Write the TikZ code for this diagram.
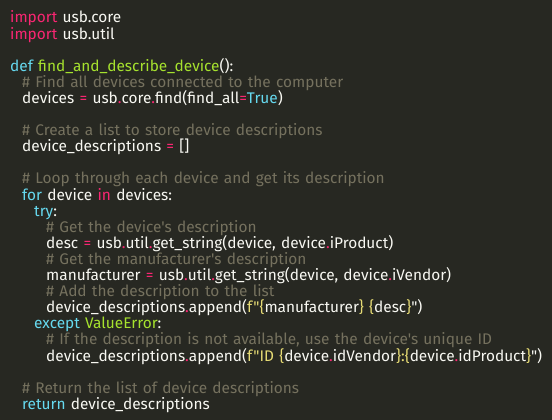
\documentclass[tikz,border=0pt]{standalone}
\usepackage{fontspec}
\usepackage{xcolor}
\newfontfamily\codefont{Fira Sans}
\definecolor{bgdark}{HTML}{272822}
\definecolor{plaintext}{HTML}{F8F8F2}
\definecolor{kwpink}{HTML}{F92672}
\definecolor{kwcyan}{HTML}{66D9EF}
\definecolor{fngreen}{HTML}{A6E22E}
\definecolor{cmgrey}{HTML}{75715E}
\definecolor{stryellow}{HTML}{E6DB74}
\newcommand\pk[1]{\textcolor{kwpink}{#1}}
\newcommand\ck[1]{\textcolor{kwcyan}{#1}}
\newcommand\gn[1]{\textcolor{fngreen}{#1}}
\newcommand\cm[1]{\textcolor{cmgrey}{\#~#1}}
\newcommand\ys[1]{\textcolor{stryellow}{#1}}
\newcommand\dt{\pk{.}}
\newcommand\codesize{\fontsize{15.4}{15.4}\selectfont
  \spaceskip=\fontdimen2\font
  \advance\spaceskip by 1.2pt\relax}

\begin{document}
\begin{tikzpicture}[x=1pt,y=-1pt,
codeline/.style={anchor=base west,inner sep=0pt,text=plaintext,
    font=\codefont\codesize}]
\fill[bgdark] (0,0) rectangle (552,420);
\useasboundingbox (0,0) rectangle (552,420);
% imports
\node (l1) [codeline] at (10,23) {\pk{import} usb.core};
\node (l2) [codeline] at (10,39.1) {\pk{import} usb.util};
% function header
\node (l4) [codeline] at (10,71.2) {\ck{def} \gn{find\_and\_describe\_device}():};
\node (l5) [codeline] at (22,87.3) {\cm{Find all devices connected to the computer}};
\node (l6) [codeline] at (22,103.4) {devices \pk{=} usb\dt core\dt find(find\_all\pk{=}\ck{True})};
\node (l8) [codeline] at (22,135.6) {\cm{Create a list to store device descriptions}};
\node (l9) [codeline] at (22,151.7) {device\_descriptions \pk{=} []};
% loop
\node (l11) [codeline] at (22,183.9) {\cm{Loop through each device and get its description}};
\node (l12) [codeline] at (22,200) {\ck{for} device \pk{in} devices:};
\node (l13) [codeline] at (34,216.1) {\ck{try}:};
\node (l14) [codeline] at (46,232.2) {\cm{Get the device's description}};
\node (l15) [codeline] at (46,248.3) {desc \pk{=} usb\dt util\dt get\_string(device, device\dt iProduct)};
\node (l16) [codeline] at (46,264.4) {\cm{Get the manufacturer's description}};
\node (l17) [codeline] at (46,280.5) {manufacturer \pk{=} usb\dt util\dt get\_string(device, device\dt iVendor)};
\node (l18) [codeline] at (46,296.6) {\cm{Add the description to the list}};
\node (l19) [codeline] at (46,312.7) {device\_descriptions\dt append(\ys{f"\{}manufacturer\ys{\}} \ys{\{}desc\ys{\}}")};
\node (l20) [codeline] at (34,328.8) {\ck{except} \gn{ValueError}:};
\node (l21) [codeline] at (46,344.9) {\cm{If the description is not available, use the device's unique ID}};
\node (l22) [codeline] at (46,361) {device\_descriptions\dt append(\ys{f"ID \{}device\dt idVendor\ys{\}:\{}device\dt idProduct\ys{\}}")};
% result
\node (l24) [codeline] at (22,393.2) {\cm{Return the list of device descriptions}};
\node (l25) [codeline] at (22,409.3) {\ck{return} device\_descriptions};
\end{tikzpicture}
\end{document}
